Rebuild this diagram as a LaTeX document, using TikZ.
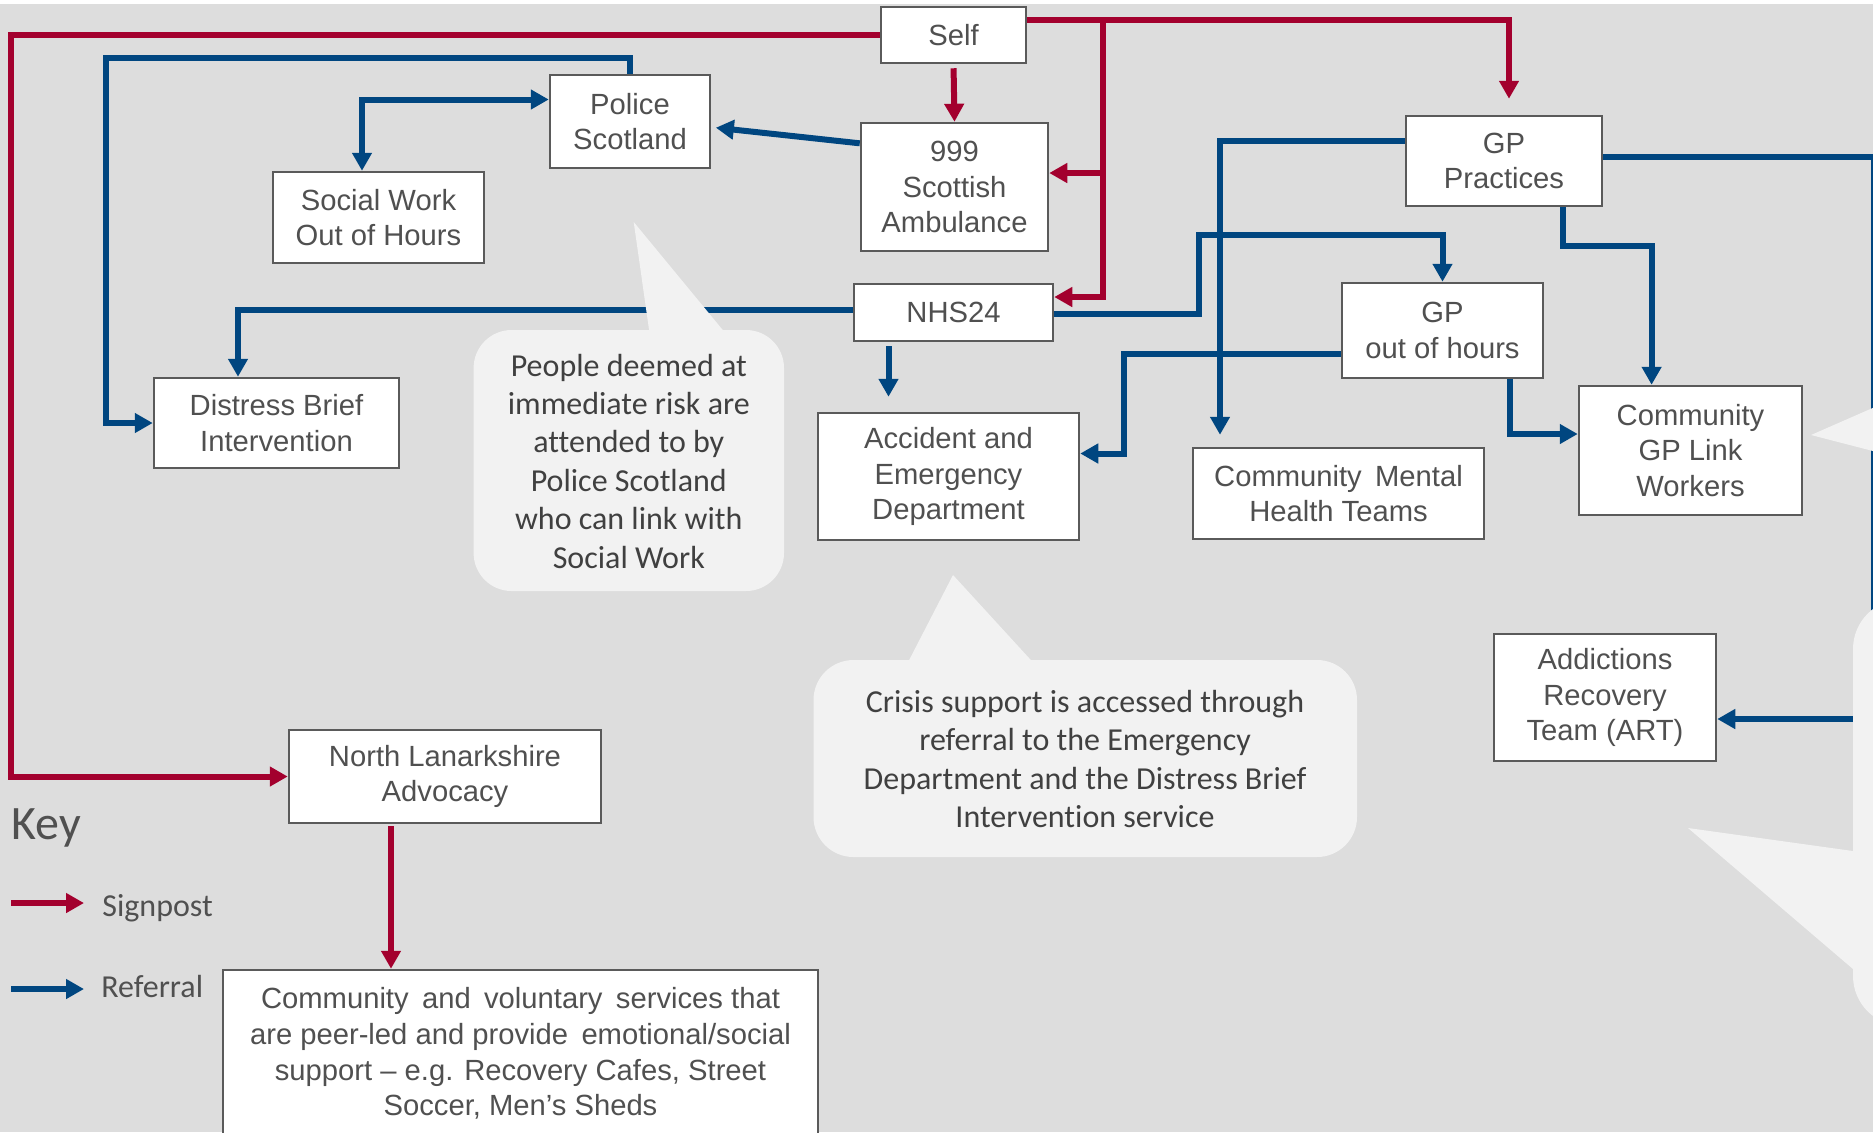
\documentclass[tikz,border=0pt]{standalone}
\usepackage{fontspec}
\setmainfont{Liberation Sans}
\newfontfamily\calfont[Ligatures=NoCommon]{Carlito}
\usetikzlibrary{arrows.meta}
\definecolor{sigred}{RGB}{163,0,46}
\definecolor{refblue}{RGB}{0,70,128}
\definecolor{bggray}{RGB}{221,221,221}
\definecolor{calloutfill}{RGB}{242,242,242}
\definecolor{boxline}{RGB}{90,90,90}
\definecolor{boxtext}{RGB}{80,80,80}
\definecolor{calltext}{RGB}{64,64,64}
\newcommand\wsp{\hspace{0.18em}}
\begin{document}
\begin{tikzpicture}[x=0.5pt,y=-0.5pt,
  box/.style={draw=boxline, line width=1.25pt, fill=white, text=boxtext, align=center, inner sep=0pt, font=\fontsize{14.6}{17.9}\selectfont},
  sig/.style={draw=sigred, line width=3pt, -{Triangle[width=9.5pt,length=9pt]}},
  ref/.style={draw=refblue, line width=3pt, -{Triangle[width=9.5pt,length=9pt]}},
  refboth/.style={draw=refblue, line width=3pt, {Triangle[width=9.5pt,length=9pt]}-{Triangle[width=9.5pt,length=9pt]}},
  refline/.style={draw=refblue, line width=3pt},
  callout/.style={fill=calloutfill, draw=none},
  calltxt/.style={text=calltext, align=center, font=\calfont\fontsize{16}{19.2}\selectfont, inner sep=0pt},
  keytxt/.style={text=boxtext, font=\calfont\fontsize{16}{19.2}\selectfont, anchor=base west, inner sep=0pt}
]
\useasboundingbox (0,0) rectangle (1873,1132);
\clip (0,0) rectangle (1873,1132);
\fill[white] (0,0) rectangle (1873,1132);
\fill[bggray] (0,4) rectangle (1873,1132);

% boxes
\node[box, minimum width=72.5pt, minimum height=28pt] (self) at (953.5,35) {Self};
\node[box, minimum width=93.5pt, minimum height=64pt] (amb) at (954.5,187) {999\\Scottish\\Ambulance};
\node[box, minimum width=80pt, minimum height=46.5pt] (police) at (630,121.5) {Police\\Scotland};
\node[box, minimum width=105.5pt, minimum height=45.5pt] (sw) at (378.5,217.5) {Social Work\\Out of Hours};
\node[box, minimum width=99.5pt, minimum height=28.5pt] (nhs) at (953.5,312.5) {NHS24};
\node[box, minimum width=122.5pt, minimum height=45pt] (dbi) at (276.5,423) {Distress Brief\\Intervention};
\node[box, minimum width=130.5pt, minimum height=63.5pt] (ae) at (948.5,476.5) {Accident and\\Emergency\\Department};
\node[box, minimum width=98pt, minimum height=45pt] (gpp) at (1504,161) {GP\\Practices};
\node[box, minimum width=100.5pt, minimum height=47.5pt] (gpooh) at (1442.5,330.5) {GP\\out of hours};
\node[box, minimum width=145.5pt, minimum height=45.5pt] (cmht) at (1338.5,493.5) {Community\wsp\ Mental\\Health Teams};
\node[box, minimum width=111.5pt, minimum height=64.5pt] (cgpl) at (1690.5,450.5) {Community\\GP Link\\Workers};
\node[box, minimum width=111pt, minimum height=63.5pt] (art) at (1605,697.5) {Addictions\\Recovery\\Team (ART)};
\node[box, minimum width=156pt, minimum height=46.5pt] (nla) at (445,776.5) {North Lanarkshire\\Advocacy};
\node[box, minimum width=297.5pt, minimum height=83.5pt] (cvs) at (520.5,1053.5) {Community\wsp\ and\wsp\ voluntary\wsp\ services that\\are peer-led and provide\wsp\ emotional/social\\support -- e.g. Recovery Cafes, Street\\Soccer, Men’s Sheds};

% junction coordinates
\coordinate (sjtop) at (1103,20);
\coordinate (sjamb) at (1103,173);
\coordinate (artsrc) at (1853,719);
\coordinate (ksig1) at (11,903);
\coordinate (ksig2) at (84,903);
\coordinate (kref1) at (11,989);
\coordinate (kref2) at (84,989);

% signpost connectors
\draw[sig] (self.west) -- (11,35) |- (nla.west);
\draw[sig, shorten <=2pt] (self.south) -- (amb.north);
\draw[sig] ([yshift=7.5pt]self.east) -- (sjtop) |- ([yshift=7.75pt]nhs.east);
\draw[sig] (sjamb) -- ([yshift=7pt]amb.east);
\draw[sig, shorten >=8pt] (sjtop) -| ([xshift=2.5pt]gpp.north);
\draw[sig, shorten <=1pt] ([xshift=-27pt]nla.south) -- ([xshift=-64.75pt]cvs.north);

% referral connectors
\draw[ref] (police.north) |- (105.5,57.7) |- (dbi.west);
\draw[refboth] ([yshift=11pt]police.west) -| ([xshift=-8.25pt]sw.north);
\draw[ref] ([yshift=21.85pt]amb.west) -- ([shift={(2.3pt,-3.1pt)}]police.east);
\draw[ref] ([yshift=1.25pt]nhs.west) -| ([xshift=-19.25pt]dbi.north);
\draw[ref, shorten >=7.5pt, shorten <=2pt] ([xshift=-32.5pt]nhs.south) -- ([xshift=-30pt]ae.north);
\draw[ref] ([yshift=-0.75pt]nhs.east) -| (1199,235) -| (gpooh.north);
\draw[ref, shorten >=6pt] ([yshift=10pt]gpp.west) -| ([xshift=-59.25pt]cmht.north);
\draw[ref] ([yshift=-11.5pt]gpooh.west) -| (1124,453.5) -- ([yshift=11.5pt]ae.east);
\draw[ref] ([xshift=29.3pt]gpp.south) -- (1562.6,245.7) -| ([xshift=-19.45pt]cgpl.north);
\draw[ref] ([xshift=33.75pt]gpooh.south) |- ([yshift=8.25pt]cgpl.west);
\draw[refline] ([yshift=2pt]gpp.east) -| (1874,700);
\draw[ref] (artsrc) -- ([yshift=-10.75pt]art.east);

% callouts
\fill[callout, rounded corners=19pt] (473.6,330) rectangle (784,591);
\fill[callout] (650.5,340) -- (633.7,222) -- (731,340) -- cycle;
\node[calltxt] (ctxa) at (628.8,461) {People deemed at\\immediate risk are\\attended to by\\Police Scotland\\who can link with\\Social Work};

\fill[callout, rounded corners=20pt] (813.5,660) rectangle (1357,857);
\fill[callout] (904,670) -- (953,575) -- (1040,670) -- cycle;
\node[calltxt] (ctxb) at (1085,759) {Crisis support is accessed through\\referral to the Emergency\\Department and the Distress Brief\\Intervention service};

\fill[callout, rounded corners=25pt] (1853,599) rectangle (2000,1026);
\fill[callout] (1860,852) -- (1688,828) -- (1860,975) -- cycle;
\fill[callout] (1811,435) -- (1900,396) -- (1900,458) -- cycle;

% key
\node[text=boxtext, font=\calfont\fontsize{24}{28}\selectfont, anchor=base west, inner sep=0pt] (keyt) at (11,839) {Key};
\draw[sig] (ksig1) -- (ksig2);
\node[keytxt] (ksigt) at (102,916) {Signpost};
\draw[ref] (kref1) -- (kref2);
\node[keytxt] (kreft) at (101,997) {Referral};
\end{tikzpicture}
\end{document}
